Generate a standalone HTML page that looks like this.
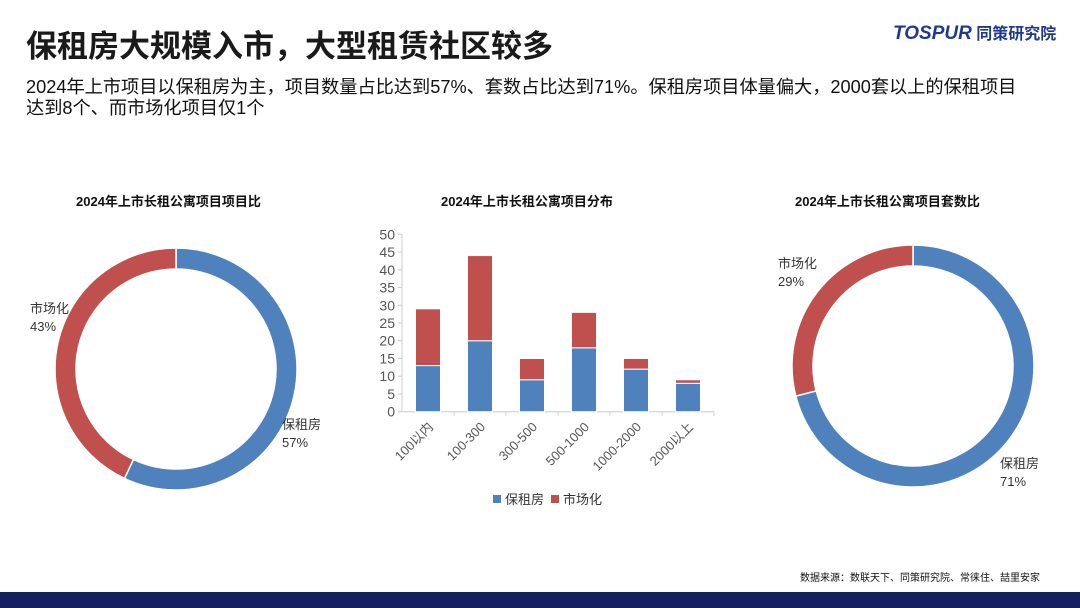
<!DOCTYPE html>
<html><head><meta charset="utf-8"><style>
body{margin:0;width:1080px;height:608px;background:#fff;font-family:"Liberation Sans","Noto Sans CJK SC",sans-serif;position:relative;overflow:hidden;color:#111}
.t{position:absolute;white-space:nowrap}
</style></head><body>
<div class="t" style="left:26px;top:21px;font-size:31px;font-weight:bold;color:#1a1a1a">保租房大规模入市，大型租赁社区较多</div>
<div class="t" style="left:893px;top:20px;font-size:19px;font-weight:bold;font-style:italic;color:#1f3a8a">TOSPUR<span style="font-style:normal;font-size:16px"> 同策研究院</span></div>
<div class="t" style="left:26px;top:77px;font-size:18.2px;line-height:21px;color:#111">2024年上市项目以保租房为主，项目数量占比达到57%、套数占比达到71%。保租房项目体量偏大，2000套以上的保租项目<br>达到8个、而市场化项目仅1个</div>
<div class="t" style="left:76px;top:191px;font-size:13px;font-weight:bold">2024年上市长租公寓项目项目比</div>
<div class="t" style="left:441px;top:191px;font-size:13px;font-weight:bold">2024年上市长租公寓项目分布</div>
<div class="t" style="left:795px;top:191px;font-size:13px;font-weight:bold">2024年上市长租公寓项目套数比</div>
<div class="t" style="left:800px;top:569px;font-size:10px">数据来源：数联天下、同策研究院、常徕住、喆里安家</div>
<div style="position:absolute;left:0;top:592px;width:1080px;height:16px;background:#14215e"></div>
<svg id="s" width="1080" height="608" style="position:absolute;left:0;top:0" font-family="Liberation Sans, Noto Sans CJK SC, sans-serif"></svg>
<script>
const cats=["100以内","100-300","300-500","500-1000","1000-2000","2000以上"];
const baozu=[13,20,9,18,12,8];
const shichang=[16,24,6,10,3,1];
const yTicks=[0,5,10,15,20,25,30,35,40,45,50];
const leftPie=[57,43];
const rightPie=[71,29];
const pieLabels=["保租房","市场化"];
const BLUE="#4f81bd",RED="#c0504d";
const svg=document.getElementById('s');const NS="http://www.w3.org/2000/svg";
function mk(t,a,p){const e=document.createElementNS(NS,t);for(const k in a)e.setAttribute(k,a[k]);(p||svg).appendChild(e);return e;}
const x0=402,x1=714,yb=411.7,yt=234.3,ymax=50;
const Y=v=>yb-(yb-yt)*v/ymax;const cw=(x1-x0)/cats.length;const X=i=>x0+cw*(i+0.5);
const ax=mk('line',{x1:x0,y1:yt,x2:x0,y2:yb,stroke:'#ccc'});

const bx=mk('line',{x1:x0,y1:yb,x2:x1,y2:yb,stroke:'#ccc'});

yTicks.forEach(v=>{mk('line',{x1:x0-4,y1:Y(v),x2:x0,y2:Y(v),stroke:'#ccc'});
const t=mk('text',{x:x0-7,y:Y(v)+5,'text-anchor':'end','font-size':14,fill:'#555'});t.textContent=v;
});
cats.forEach((c,i)=>{mk('line',{x1:x0+cw*(i+1),y1:yb,x2:x0+cw*(i+1),y2:yb+4,stroke:'#ccc'});
const b=mk('rect',{x:X(i)-12.5,y:Y(baozu[i]),width:25,height:yb-Y(baozu[i]),fill:BLUE,stroke:'#fff','stroke-width':1});

const r=mk('rect',{x:X(i)-12.5,y:Y(baozu[i]+shichang[i]),width:25,height:Y(baozu[i])-Y(baozu[i]+shichang[i]),fill:RED,stroke:'#fff','stroke-width':1});

const t=mk('text',{x:X(i)+6,y:yb+16,'text-anchor':'end','font-size':13,fill:'#555',transform:`rotate(-45 ${X(i)+6} ${yb+16})`});t.textContent=c;
});
[[493,BLUE,"保租房"],[551,RED,"市场化"]].forEach(([x,c,l])=>{const g=mk('g',{});

mk('rect',{x:x,y:495,width:8,height:8,fill:c},g);const t=mk('text',{x:x+12,y:504,'font-size':13,fill:'#333'},g);t.textContent=l;});
function donut(cx,cy,R,r,vals,name){let a=0;const tot=vals.reduce((s,v)=>s+v,0);
vals.forEach((v,i)=>{const a2=a+v/tot*2*Math.PI;const p=(ang,rad)=>[cx+rad*Math.sin(ang),cy-rad*Math.cos(ang)];
const[ax1,ay1]=p(a,R),[ax2,ay2]=p(a2,R),[bx1,by1]=p(a2,r),[bx2,by2]=p(a,r);const lg=a2-a>Math.PI?1:0;
const e=mk('path',{d:`M${ax1},${ay1}A${R},${R} 0 ${lg} 1 ${ax2},${ay2}L${bx1},${by1}A${r},${r} 0 ${lg} 0 ${bx2},${by2}Z`,fill:i?RED:BLUE,stroke:'#fff','stroke-width':1.5});
a=a2;});}
donut(176,369,121,100,leftPie,'left-donut');donut(913,366,121,100,rightPie,'right-donut');
function lab(x,y,anchor,l,v,name){const t=mk('text',{x:x,y:y,'text-anchor':anchor,'font-size':13,fill:'#333'});t.textContent=l;

const t2=mk('text',{x:x,y:y+18,'text-anchor':anchor,'font-size':13,fill:'#333'});t2.textContent=v+'%';}
lab(282,429,'start',pieLabels[0],leftPie[0],'left-label-baozu');lab(30,313,'start',pieLabels[1],leftPie[1],'left-label-shichang');
lab(1000,468,'start',pieLabels[0],rightPie[0],'right-label-baozu');lab(778,268,'start',pieLabels[1],rightPie[1],'right-label-shichang');
</script>
</body></html>
